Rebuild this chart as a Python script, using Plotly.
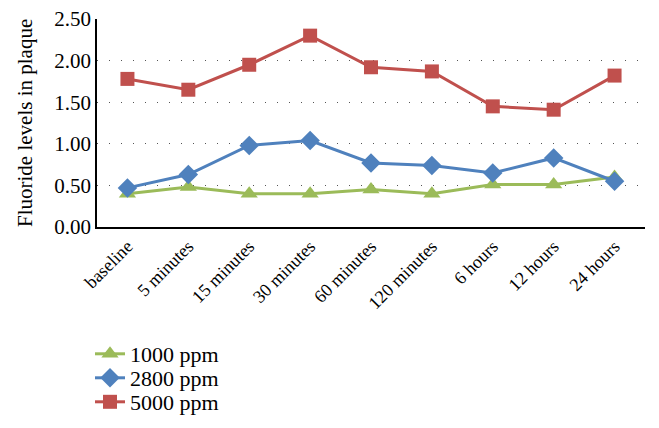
import plotly.graph_objects as go

categories = ["baseline", "5 minutes", "15 minutes", "30 minutes", "60 minutes",
              "120 minutes", "6 hours", "12 hours", "24 hours"]
ppm1000 = [0.40, 0.48, 0.40, 0.40, 0.45, 0.40, 0.51, 0.51, 0.60]
ppm2800 = [0.47, 0.63, 0.98, 1.04, 0.77, 0.74, 0.65, 0.83, 0.55]
ppm5000 = [1.78, 1.65, 1.95, 2.30, 1.92, 1.87, 1.45, 1.41, 1.82]
y_ticks = [0, 0.5, 1.0, 1.5, 2.0, 2.5]
y_ticklabels = ["0.00", "0.50", "1.00", "1.50", "2.00", "2.50"]
y_title = "Fluoride levels in plaque"

font_family = "Liberation Serif, Times New Roman, serif"

W, H = 651, 420  # page body has an 8px margin
fig = go.Figure()
fig.add_trace(go.Scatter(x=categories, y=ppm1000, name="1000 ppm", mode="lines+markers",
                         line=dict(color="#9BBB59", width=3),
                         marker=dict(symbol="triangle-up", size=15, color="#9BBB59"),
                         legend="legend"))
fig.add_trace(go.Scatter(x=categories, y=ppm2800, name="2800 ppm", mode="lines+markers",
                         line=dict(color="#4F81BD", width=3),
                         marker=dict(symbol="diamond", size=15, color="#4F81BD"),
                         legend="legend2"))
fig.add_trace(go.Scatter(x=categories, y=ppm5000, name="5000 ppm", mode="lines+markers",
                         line=dict(color="#C0504D", width=3),
                         marker=dict(symbol="square", size=14, color="#C0504D"),
                         legend="legend3"))

def leg(ypix):
    return dict(xref="container", yref="container", x=82 / W, y=1 - ypix / H,
                xanchor="left", yanchor="middle", bgcolor="rgba(0,0,0,0)",
                font=dict(family=font_family, size=22, color="black"),
                itemwidth=30)

fig.update_layout(
    width=W, height=H,
    margin=dict(l=89, r=14, t=11, b=201, autoexpand=False),
    paper_bgcolor="white", plot_bgcolor="white",
    font=dict(family=font_family, size=19, color="black"),
    showlegend=True,
    legend=leg(346), legend2=leg(370), legend3=leg(394),
)
fig.add_annotation(text=y_title, xref="paper", yref="paper", x=0, y=0.5,
                   xshift=-72, xanchor="center", yanchor="middle", textangle=-90,
                   showarrow=False, font=dict(family=font_family, size=21, color="black"))
fig.update_xaxes(type="category", showline=True, linecolor="black", linewidth=1.5,
                 showgrid=False, ticks="", tickangle=-45, automargin=False,
                 tickfont=dict(family=font_family, size=18),
                 range=[-0.5, len(categories) - 0.5])
fig.update_yaxes(range=[0, 2.5], tickvals=y_ticks, ticktext=y_ticklabels,
                 showline=True, linecolor="black", linewidth=1.5, automargin=False,
                 ticklabeloverflow="allow",
                 showgrid=True, gridcolor="#555555", gridwidth=1, griddash="1px,11px",
                 zeroline=False, ticks="",
                 tickfont=dict(family=font_family, size=21))

fig.write_html("out.html")
